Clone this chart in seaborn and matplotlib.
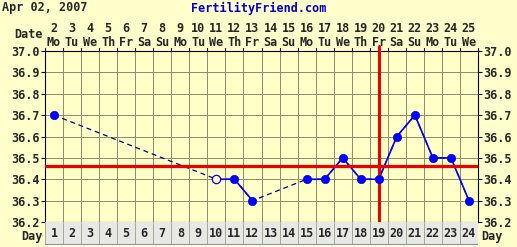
import numpy as np
import pandas as pd
import matplotlib
matplotlib.use("Agg")
import matplotlib.pyplot as plt
import matplotlib.transforms as mtrans
import seaborn as sns

days = list(range(1, 25))
dates = list(range(2, 26))
weekdays = ["Mo", "Tu", "We", "Th", "Fr", "Sa", "Su"] * 4
weekdays = weekdays[:24]
temps = [36.7, None, None, None, None, None, None, None, None, 36.4, 36.4, 36.3,
         None, None, 36.4, 36.4, 36.5, 36.4, 36.4, 36.6, 36.7, 36.5, 36.5, 36.3]
open_days = [10]
coverline = 36.46
ovulation_day = 19
yticks = [36.2, 36.3, 36.4, 36.5, 36.6, 36.7, 36.8, 36.9, 37.0]

sns.set_theme(style="white")
plt.rcParams['font.family'] = ['DejaVu Sans Mono']

W, H = 517, 247
bg = "#FFFFCC"
fs = 8.5
fig = plt.figure(figsize=(W / 100, H / 100), dpi=100, facecolor=bg)

L, R, T, B = 45, 478, 51, 222
ax = fig.add_axes([L / W, (H - B) / H, (R - L) / W, (B - T) / H])
ax.set_facecolor("#FFFFC8")

df = pd.DataFrame({"day": days, "temp": [np.nan if t is None else t for t in temps]})
valid = df.dropna()

gridc = "#8C8C6C"
for d in range(0, 25):
    ax.axvline(d + 0.5, color=gridc, lw=0.7, zorder=1)
for y in yticks:
    ax.axhline(y, color=gridc, lw=0.7, zorder=1)

# dashed connections across gaps
ax.plot(valid["day"], valid["temp"], color="#000080", lw=0.9, ls=(0, (4, 3)), zorder=3)
# solid segments (break on NaN)
ax.plot(df["day"], df["temp"], color="#0000FF", lw=1.2, zorder=4)

ax.axhline(coverline, color="#EE0000", lw=2.3, zorder=5)
ax.axvline(ovulation_day, color="#EE0000", lw=2.2, zorder=5, ymax=1.03, clip_on=False)

filled = valid[~valid["day"].isin(open_days)]
hollow = valid[valid["day"].isin(open_days)]
sns.scatterplot(data=filled, x="day", y="temp", ax=ax, color="#0000FF", s=36,
                edgecolor="#0000FF", linewidth=0.5, zorder=6, legend=False)
sns.scatterplot(data=hollow, x="day", y="temp", ax=ax, facecolor="#FFFFC8", s=36,
                edgecolor="#0000FF", linewidth=0.9, zorder=6, legend=False)

ax.set_xlim(0.5, 24.5)
ax.set_ylim(36.2, 37.0)
ax.set_xlabel("")
ax.set_ylabel("")
ax.set_xticks([])
ax.set_yticks(yticks)
ax.set_yticklabels([f"{y:.1f}" for y in yticks], fontsize=fs, fontweight="bold")
ax.tick_params(axis="y", which="both", left=True, right=True, labelleft=True,
               labelright=True, length=3, width=0.8, color="black", pad=1)
for s in ax.spines.values():
    s.set_color("black")
    s.set_linewidth(0.8)

# top ticks at cell boundaries
trans = mtrans.blended_transform_factory(ax.transData, fig.transFigure)
for d in range(0, 25):
    ax.plot([d + 0.5, d + 0.5], [1.0, 1.015], transform=ax.get_xaxis_transform(),
            color="black", lw=0.8, clip_on=False)

# day row
dax = fig.add_axes([L / W, (H - 245) / H, (R - L) / W, (245 - B) / H])
dax.set_facecolor("#E8E8E4")
dax.set_xlim(0.5, 24.5)
dax.set_ylim(0, 1)
dax.set_xticks([])
dax.set_yticks([])
for d in range(0, 25):
    dax.axvline(d + 0.5, color="#A8A898", lw=0.7)
for s in dax.spines.values():
    s.set_visible(False)
dax.axhline(0, color="#8888CC", lw=1.5)
for d in days:
    dax.text(d, 0.48, str(d), ha="center", va="center", fontsize=fs, fontweight="bold")
fig.text(43 / W, 1 - 236 / H, "Day", ha="right", va="center", fontsize=fs, fontweight="bold")
fig.text(481 / W, 1 - 236 / H, "Day", ha="left", va="center", fontsize=fs, fontweight="bold")

# date rows
for d, dt, wd in zip(days, dates, weekdays):
    ax.text(d, 1 - 28 / H, str(dt), transform=trans, ha="center", va="center",
            fontsize=fs, fontweight="bold")
    ax.text(d, 1 - 42 / H, wd, transform=trans, ha="center", va="center",
            fontsize=fs, fontweight="bold")
fig.text(43 / W, 1 - 35 / H, "Date", ha="right", va="center", fontsize=fs, fontweight="bold")

fig.text(2 / W, 1 - 8 / H, "Apr 02, 2007", ha="left", va="center", fontsize=fs, fontweight="bold")
fig.text(259 / W, 1 - 8 / H, "FertilityFriend.com", ha="center", va="center",
         fontsize=fs, fontweight="bold", color="#0000CC")

fig.savefig("out.png", dpi=100, facecolor=bg)
